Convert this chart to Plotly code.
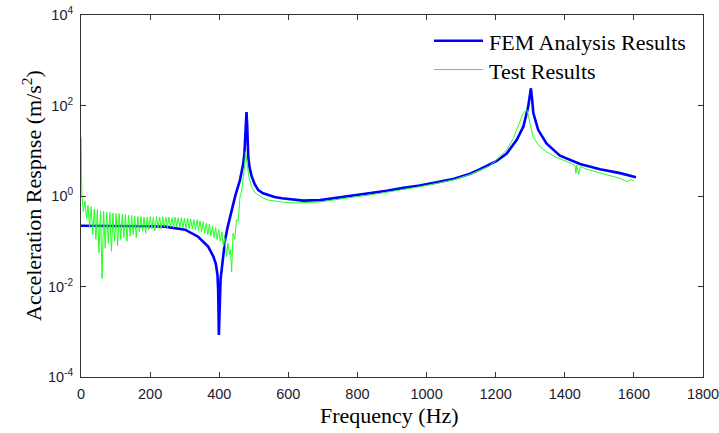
import plotly.graph_objects as go

# ---------------- data ----------------
fem_freq = [0, 100, 200, 243, 301, 339, 368, 383, 390, 395, 397, 399, 401, 404, 407,
            412, 417, 424, 431, 438, 446, 453, 460, 466, 470, 473, 475, 477, 479, 481,
            484, 488, 494, 503, 513, 527, 542, 560, 581, 605, 643, 692, 740, 790, 836,
            885, 933, 980, 1029, 1080, 1126, 1155, 1203, 1232, 1261, 1280, 1294, 1299,
            1302, 1305, 1309, 1323, 1347, 1386, 1434, 1444, 1502, 1560, 1606]
fem_val = [0.22, 0.22, 0.215, 0.21, 0.18, 0.126, 0.076, 0.046, 0.032, 0.018, 0.008,
           0.00085, 0.006, 0.015, 0.023, 0.055, 0.107, 0.2, 0.35, 0.55, 0.98, 1.5,
           2.25, 3.8, 5.4, 9, 17, 35, 72, 35, 7.4, 4.2, 2.7, 1.8, 1.35, 1.15, 1.05,
           0.95, 0.89, 0.85, 0.79, 0.81, 0.91, 1.0, 1.15, 1.3, 1.51, 1.7, 2.0, 2.4,
           3.1, 3.9, 6.0, 8.7, 17.4, 34, 93, 160, 240, 150, 68, 29, 14.5, 7.8, 5.6,
           5.1, 3.9, 3.2, 2.6]

test_freq = [0, 0.5, 1.5,
             2.5, 7, 11.5, 16, 20.5, 25, 29.5, 34, 38.5, 43, 47.5, 52, 56.5, 61,
             65.5, 70, 74.5, 79, 83.5, 88, 92.5, 97, 101.5, 106, 110.5, 115, 119.5, 124,
             128.5, 133, 137.5, 142, 146.5, 151, 155.5, 160, 164.5, 169, 173.5, 178,
             182.5, 187, 191.5, 196, 200.5, 205, 209.5, 214, 218.5, 223, 227.5, 232,
             236.5, 241, 245.5, 250, 254.5, 259, 263.5, 268, 272.5, 277, 281.5, 286,
             290.5, 295, 299.5, 304, 308.5, 313, 317.5, 322, 326.5, 331, 335.5, 340,
             344.5, 349, 353.5, 358, 362.5, 367, 371.5, 376, 380.5, 385, 389.5, 394,
             398.5, 403,
             408, 412, 416, 421, 425, 430, 433, 436, 440, 445, 450, 455, 460, 465, 470,
             474, 476, 478, 482, 486, 494, 503, 513, 527, 542, 560, 581, 605, 640, 692,
             740, 790, 836, 885, 933, 980, 1029, 1080, 1126, 1155, 1180, 1203, 1232,
             1251, 1265, 1280, 1290, 1295, 1299, 1309, 1323, 1347, 1376, 1405, 1420,
             1430, 1432, 1435, 1440, 1442, 1445, 1463, 1480, 1502, 1530, 1560, 1579,
             1590, 1600]
test_val = [20, 18, 3.5,
            1.05, 0.45, 0.78, 0.32, 0.62, 0.20, 0.58, 0.14, 0.52, 0.11, 0.50, 0.055,
            0.47, 0.015,
            0.46, 0.07, 0.44, 0.09, 0.43, 0.06, 0.42, 0.10, 0.41, 0.08, 0.41, 0.11,
            0.40, 0.12, 0.39, 0.10, 0.38, 0.13, 0.37, 0.14, 0.36, 0.12, 0.35, 0.16,
            0.35, 0.17, 0.34, 0.15, 0.34, 0.18, 0.35, 0.19, 0.34, 0.17, 0.35, 0.20,
            0.34, 0.19, 0.35, 0.21, 0.34, 0.20, 0.34, 0.21, 0.33, 0.20, 0.34, 0.21,
            0.33, 0.20, 0.33, 0.20, 0.32, 0.19, 0.32, 0.19, 0.31, 0.19, 0.30, 0.18,
            0.30, 0.17, 0.28, 0.16, 0.27, 0.15, 0.25, 0.14, 0.24, 0.13, 0.22, 0.12,
            0.20, 0.11, 0.18, 0.10,
            0.16, 0.075, 0.12, 0.045, 0.09, 0.05, 0.065, 0.021, 0.15, 0.11, 0.30, 0.28,
            0.95, 1.3, 2.7, 5.0, 9.5, 7.5, 4.0, 2.6, 1.6, 1.2, 1.05, 0.9, 0.81, 0.77,
            0.74, 0.71, 0.71, 0.74, 0.85, 0.95, 1.05, 1.2, 1.41, 1.6, 1.9, 2.3, 3.0,
            3.7, 4.5, 6.3, 10.5, 18.6, 34, 68, 80, 60, 41, 20, 13.5, 9.5, 7.1, 5.8,
            5.2, 4.6, 3.2, 4.8, 3.0, 3.5, 4.5, 3.9, 3.6, 3.2, 2.8, 2.45, 2.1, 2.3, 2.2]

x_ticks = [0, 200, 400, 600, 800, 1000, 1200, 1400, 1600, 1800]
y_ticks = [1e-4, 1e-2, 1, 1e2, 1e4]
y_ticktext = ["10<sup>-4</sup>", "10<sup>-2</sup>", "10<sup>0</sup>",
              "10<sup>2</sup>", "10<sup>4</sup>"]
series_names = ["FEM Analysis Results", "Test Results"]
x_title = "Frequency (Hz)"
y_title = "Acceleration Respnse (m/s<sup>2</sup>)"

# ---------------- figure ----------------
W, H = 719, 433
ML, MR, MT, MB = 81, 16, 15, 56
PW, PH = W - ML - MR, H - MT - MB

BLUE = "#0000ff"
GREEN = "#22ff22"
SERIF = "Liberation Serif, Times New Roman, serif"
SANS = "Liberation Sans, Arial, sans-serif"


def px(xp):
    """window pixel x -> paper fraction"""
    return (xp - ML) / PW


def py(yp):
    """window pixel y -> paper fraction"""
    return (H - MB - yp) / PH


fig = go.Figure()
fig.add_trace(go.Scatter(x=fem_freq, y=fem_val, mode="lines", name=series_names[0],
                         line=dict(color=BLUE, width=2.6)))
fig.add_trace(go.Scatter(x=test_freq, y=test_val, mode="lines", name=series_names[1],
                         line=dict(color=GREEN, width=1)))

axis_common = dict(showline=True, linecolor="#333333", linewidth=1, mirror="ticks",
                   ticks="inside", ticklen=5, tickcolor="#333333", showgrid=False,
                   zeroline=False, automargin=False, ticklabeloverflow="allow",
                   tickfont=dict(family=SANS, size=14.5, color="#1a1a2e"))

fig.update_xaxes(range=[0, 1800], tickvals=x_ticks, ticktext=[str(v) for v in x_ticks],
                 ticklabelstandoff=4, **axis_common)
fig.update_yaxes(type="log", range=[-4, 4], tickvals=y_ticks, ticktext=y_ticktext,
                 ticklabelstandoff=4, **axis_common)

# manual legend
legend_y = [40.7, 69.5]
colors = [BLUE, GREEN]
widths = [2.6, 1.2]
shapes = []
annotations = []
for name, yy, c, w in zip(series_names, legend_y, colors, widths):
    shapes.append(dict(type="line", xref="paper", yref="paper", x0=px(434), x1=px(483),
                       y0=py(yy), y1=py(yy), line=dict(color=c, width=w)))
    annotations.append(dict(text=name, xref="paper", yref="paper", x=px(487), y=py(yy + 1.5),
                            xanchor="left", yanchor="middle", showarrow=False,
                            font=dict(family=SERIF, size=22, color="black")))

annotations.append(dict(text=x_title, xref="paper", yref="paper", x=px(389), y=py(415),
                        xanchor="center", yanchor="middle", showarrow=False,
                        font=dict(family=SERIF, size=22, color="black")))
annotations.append(dict(text=y_title, xref="paper", yref="paper", x=px(32), y=py(196),
                        xanchor="center", yanchor="middle", showarrow=False, textangle=-90,
                        font=dict(family=SERIF, size=22, color="black")))

fig.update_layout(width=W, height=H, margin=dict(l=ML, r=MR, t=MT, b=MB),
                  plot_bgcolor="white", paper_bgcolor="white", showlegend=False,
                  shapes=shapes, annotations=annotations)

# remove the default 8px page margin so the figure fills the window exactly
fig.write_html("out.html",
               config={"displayModeBar": False},
               post_script="document.body.style.margin='0';document.body.style.overflow='hidden';")
